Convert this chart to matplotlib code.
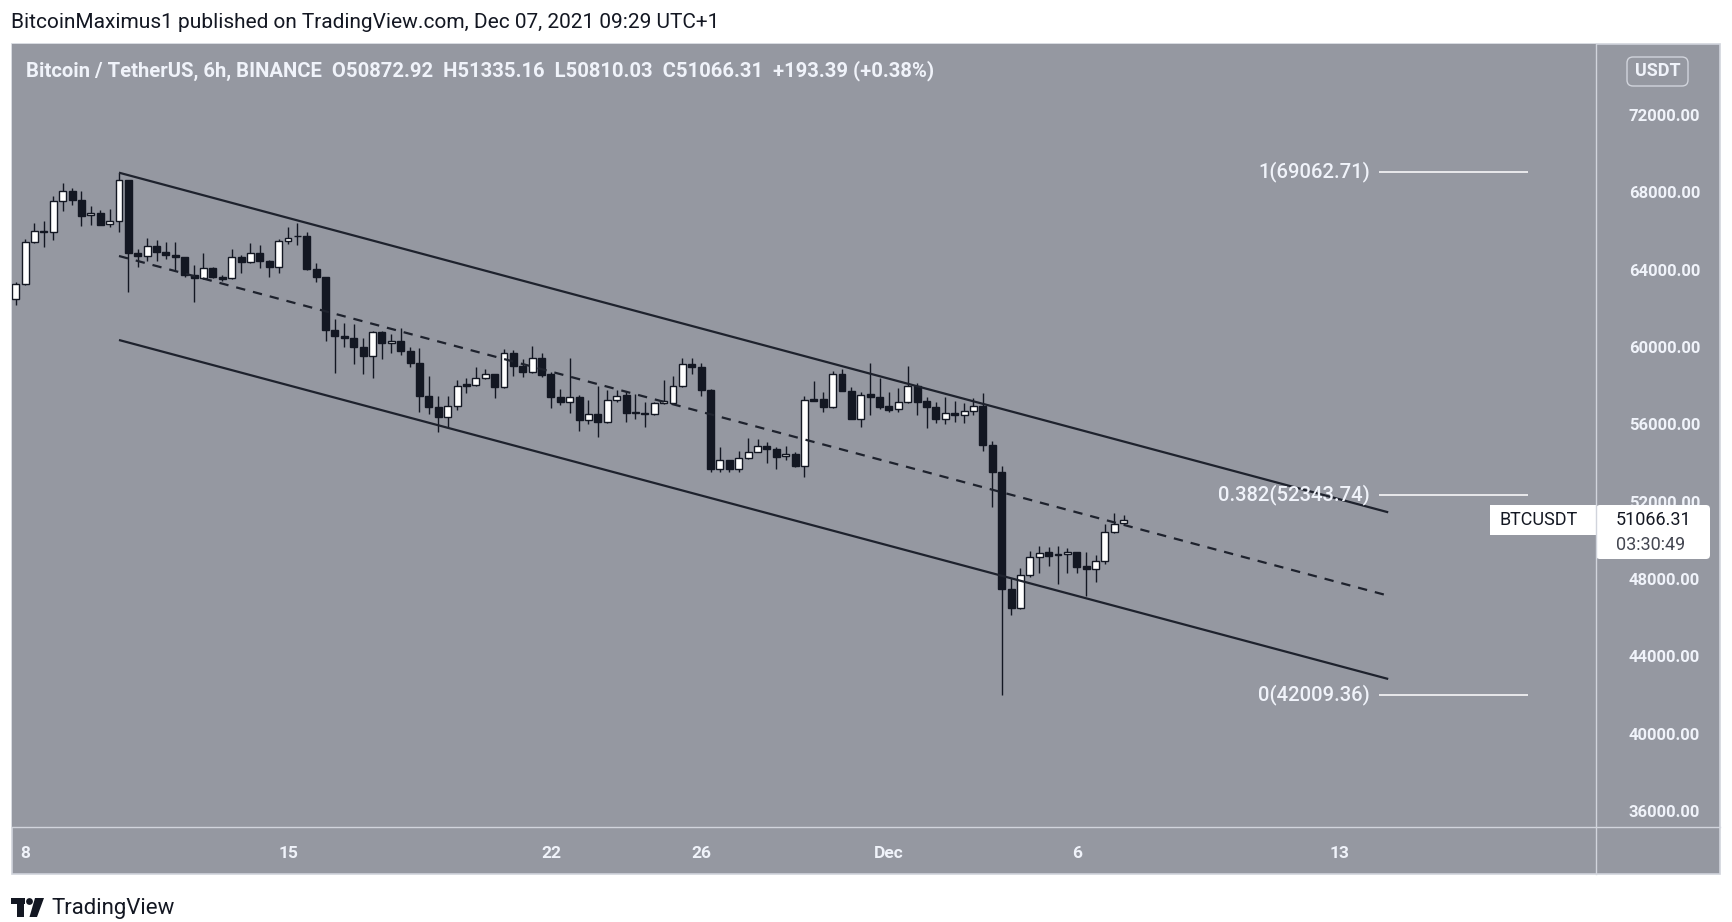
import matplotlib
matplotlib.use('Agg')
import matplotlib.pyplot as plt
from matplotlib.patches import Rectangle, FancyBboxPatch, Polygon, Circle
import pandas as pd
import numpy as np

# ---------------- data ----------------
start_time = pd.Timestamp('2021-11-07 18:00')
interval = pd.Timedelta(hours=6)

opens = [62465, 63241, 65414, 66017, 65965, 67534, 68086, 67603, 66844, 66948,
         66344, 66517, 68620, 64879, 64707, 65241, 64931, 64758, 64638, 63724,
         63551, 64103, 63603, 63551, 64638, 64396, 64879, 64465, 64155, 65500,
         65740, 65720, 64017, 63604, 60879, 60569, 60449, 60017, 59552, 60759,
         60224, 60328, 59810, 59190, 57483, 56880, 56397, 56948, 58069, 58035,
         58414, 58586, 57914, 59673, 59017, 58690, 59449, 58603, 57431, 57173,
         57431, 56224, 56517, 56103, 57258, 57517, 56603, 56603, 56534, 57120,
         57086, 57982, 59120, 58948, 57776, 53672, 54155, 53672, 54241, 54586,
         54897, 54707, 54362, 54465, 53862, 57310, 57310, 56879, 58586, 57724,
         56276, 57569, 57397, 56948, 56776, 57138, 57983, 57207, 56879, 56276,
         56603, 56483, 56707, 56948, 54931, 53552, 47483, 46483, 48207, 49155,
         49380, 49242, 49293, 49380, 48673, 48535, 48948, 50414, 50872.92]
highs = [63380, 65586, 66396, 66517, 67810, 68500, 68207, 68086, 67310, 67086,
         67120, 69017, 68650, 65051, 65620, 65534, 65448, 65448, 64660, 64241,
         64879, 64120, 63724, 65051, 64758, 65362, 65276, 64500, 65569, 66224,
         66397, 65966, 64362, 63620, 61431, 61259, 61190, 60449, 60845, 60845,
         60655, 60966, 59983, 59931, 58500, 57483, 57483, 58293, 58380, 58983,
         58845, 58600, 59880, 59845, 59362, 60052, 59707, 58724, 57810, 59449,
         57500, 57258, 57982, 57776, 57776, 57724, 57569, 57172, 57138, 58293,
         58500, 59413, 59413, 59155, 57810, 54845, 54170, 54638, 55276, 55224,
         55069, 54845, 54897, 54586, 57465, 58241, 57689, 58776, 58845, 57914,
         57689, 59190, 58380, 57690, 57862, 59017, 58121, 57431, 57172, 57397,
         57224, 57086, 57345, 57603, 55155, 53845, 48035, 48552, 49466, 49707,
         49638, 49707, 49586, 49400, 49414, 49242, 50845, 51397, 51335.16]
lows = [62170, 63200, 65380, 65155, 65534, 67034, 67344, 66258, 66310, 66300,
        66224, 65965, 62862, 64120, 64431, 64431, 64569, 63983, 63603, 62310,
        63530, 63551, 63431, 63530, 63810, 64362, 64069, 63603, 63810, 65310,
        65276, 64000, 63380, 60327, 58638, 60017, 59121, 58586, 58414, 59362,
        59673, 59586, 58983, 56656, 56517, 55621, 55879, 56741, 57603, 58000,
        58328, 57345, 57862, 58500, 58466, 58638, 58466, 56828, 57000, 56603,
        55672, 55999, 55362, 56080, 57138, 56138, 56258, 55845, 56480, 57050,
        57050, 57914, 58603, 57465, 53551, 53551, 53551, 53551, 54200, 54550,
        54017, 53672, 54155, 53810, 53293, 57200, 56655, 56828, 57700, 56250,
        55879, 56483, 56776, 56655, 56655, 57086, 56483, 55793, 56052, 56017,
        56138, 56087, 56483, 54638, 51742, 42000, 46138, 46450, 48121, 48328,
        48690, 47742, 48293, 48293, 47121, 47862, 48776, 50362, 50810.03]
closes = [63241, 65414, 66017, 65965, 67534, 68086, 67603, 66793, 66948, 66330,
          66517, 68620, 64879, 64707, 65241, 64931, 64758, 64638, 63724, 63551,
          64103, 63603, 63534, 64638, 64396, 64879, 64465, 64155, 65500, 65655,
          65720, 64017, 63604, 60879, 60569, 60449, 60017, 59552, 60759, 60224,
          60328, 59810, 59190, 57483, 56880, 56397, 56948, 57983, 58000, 58414,
          58586, 57914, 59673, 59017, 58690, 59449, 58552, 57431, 57173, 57431,
          56224, 56517, 56103, 57258, 57483, 56603, 56620, 56534, 57120, 57190,
          57982, 59120, 58948, 57776, 53672, 54155, 53672, 54241, 54586, 54879,
          54707, 54327, 54465, 53862, 57258, 57224, 56879, 58586, 57724, 56276,
          57517, 57397, 56914, 56741, 57138, 57983, 57172, 56879, 56276, 56569,
          56483, 56707, 56948, 54931, 53552, 47483, 46483, 48207, 49121, 49362,
          49207, 49260, 49380, 48638, 48535, 48948, 50414, 50845, 51066.31]

tick_dates = ['2021-11-08', '2021-11-15', '2021-11-22', '2021-11-26',
              '2021-12-01', '2021-12-06', '2021-12-13']
tick_labels = ['8', '15', '22', '26', 'Dec', '6', '13']
price_ticks = [36000, 40000, 44000, 48000, 52000, 56000, 60000, 64000, 68000, 72000]

channel_dates = ['2021-11-10 12:00', '2021-12-14 07:00']
channel_upper = [69017, 51450]
channel_mid = [64707, 47137]
channel_lower = [60362, 42828]

fib_ratios = ['1', '0.382', '0']
fib_levels = [69062.71, 52343.74, 42009.36]

last_price = 51066.31
countdown = '03:30:49'
header = ('Bitcoin / TetherUS, 6h, BINANCE  O50872.92  H51335.16  '
          'L50810.03  C51066.31  +193.39 (+0.38%)')
published = 'BitcoinMaximus1 published on TradingView.com, Dec 07, 2021 09:29 UTC+1'

# ---------------- helpers ----------------
def to_idx(ts):
    return (pd.Timestamp(ts) - start_time) / interval

W, H = 1733, 922
FONT = ['Roboto', 'DejaVu Sans']
plt.rcParams['font.family'] = FONT
GRAY = '#9598A1'
DARK = '#131722'
WHITE = '#F0F3FA'
SEP = '#D1D4DC'

fig = plt.figure(figsize=(W / 100, H / 100), dpi=100, facecolor='white')

# background overlay (pixel coordinates)
bg = fig.add_axes([0, 0, 1, 1], zorder=0)
bg.set_xlim(0, W); bg.set_ylim(H, 0); bg.axis('off')
bg.add_patch(Rectangle((12, 44), 1708, 830, facecolor=GRAY, edgecolor=SEP, lw=1.2))

# main price axes
L_px, R_px, T_px, B_px = 12, 1596, 44, 826.6
ax = fig.add_axes([L_px / W, (H - B_px) / H, (R_px - L_px) / W, (B_px - T_px) / H], zorder=1)
ax.set_facecolor(GRAY)
for s in ax.spines.values():
    s.set_visible(False)

n = len(opens)
x = np.arange(n)
o = np.array(opens); c = np.array(closes); hi = np.array(highs); lo = np.array(lows)
up = c >= o
ax.vlines(x, lo, hi, color=DARK, lw=1.0, zorder=2)
body_bottom = np.minimum(o, c)
body_h = np.maximum(np.abs(c - o), 25)
ax.bar(x[up], body_h[up], bottom=body_bottom[up], width=0.74, color='white',
       edgecolor=DARK, linewidth=1.0, zorder=3)
ax.bar(x[~up], body_h[~up], bottom=body_bottom[~up], width=0.74, color=DARK,
       edgecolor=DARK, linewidth=1.0, zorder=3)

# channel
cx = [to_idx(d) for d in channel_dates]
ax.plot(cx, channel_upper, color='#1E222D', lw=1.6, solid_capstyle='butt', zorder=4)
ax.plot(cx, channel_lower, color='#1E222D', lw=1.6, solid_capstyle='butt', zorder=4)
ax.plot(cx, channel_mid, color='#1E222D', lw=1.6, dashes=(4.2, 3.6), zorder=4)

# fib levels
fx0 = (1379 - 15.7) / 9.39
fx1 = (1528 - 15.7) / 9.39
ftx = (1370 - 15.7) / 9.39
for r, lv in zip(fib_ratios, fib_levels):
    ax.hlines(lv, fx0, fx1, color='white', lw=1.1, zorder=4)
    ax.text(ftx, lv, f'{r}({lv:.2f})', color=WHITE, fontsize=14.6, ha='right',
            va='center', zorder=5, fontweight='medium')

x_left = (L_px - 15.7) / 9.39
x_right = (R_px - 15.7) / 9.39
ax.set_xlim(x_left, x_right)
p_per_px = 1000 / 19.333
ax.set_ylim(72000 - (B_px - 115) * p_per_px, 72000 + (115 - T_px) * p_per_px)

ax.yaxis.tick_right()
ax.set_yticks(price_ticks)
ax.set_yticklabels([f'{v:.2f}' for v in price_ticks])
ax.tick_params(axis='y', length=0, pad=23.5, labelcolor=WHITE, labelsize=12)
ax.set_xticks([to_idx(d) for d in tick_dates])
ax.set_xticklabels(tick_labels)
ax.tick_params(axis='x', length=0, pad=14, labelcolor=WHITE, labelsize=12.5)
for lab in ax.get_xticklabels() + ax.get_yticklabels():
    lab.set_fontweight('bold')

# foreground overlay
fg = fig.add_axes([0, 0, 1, 1], zorder=3)
fg.set_xlim(0, W); fg.set_ylim(H, 0); fg.axis('off'); fg.patch.set_alpha(0)
fg.plot([R_px, R_px], [44, 874], color=SEP, lw=1.0)
fg.plot([12, 1720], [B_px, B_px], color=SEP, lw=1.0)

fg.text(11, 22, published, color=DARK, fontsize=15, ha='left', va='center')
fg.text(26, 71, header, color=WHITE, fontsize=14.6, ha='left', va='center',
        fontweight='bold')

# USDT box
fg.add_patch(FancyBboxPatch((1627, 57), 61, 29, boxstyle='round,pad=0,rounding_size=6',
                            facecolor='none', edgecolor=SEP, lw=1.0))
fg.text(1657.5, 71.5, 'USDT', color=WHITE, fontsize=13, ha='center', va='center',
        fontweight='bold')

# last price label
fg.add_patch(Rectangle((1490, 505), 106, 30, facecolor='white', edgecolor='none'))
fg.add_patch(FancyBboxPatch((1596, 505), 114, 54, boxstyle='round,pad=0,rounding_size=4',
                            facecolor='white', edgecolor='none'))
fg.text(1500, 520, 'BTCUSDT', color=DARK, fontsize=13, ha='left', va='center')
fg.text(1616, 520, f'{last_price:.2f}', color=DARK, fontsize=13, ha='left', va='center')
fg.text(1616, 545, countdown, color='#434651', fontsize=13, ha='left', va='center')

# TradingView logo + text
fg.add_patch(Rectangle((11, 898), 14, 5.5, facecolor=DARK, edgecolor='none'))
fg.add_patch(Rectangle((17.5, 898), 6.5, 19, facecolor=DARK, edgecolor='none'))
fg.add_patch(Circle((29.5, 901.5), 3.4, facecolor=DARK, edgecolor='none'))
fg.add_patch(Polygon([(35, 898), (44, 898), (37, 917), (29.5, 917)], closed=True,
                     facecolor=DARK, edgecolor='none'))
fg.text(51, 908, 'TradingView', color=DARK, fontsize=16, ha='left', va='center')

fig.savefig('out.png', dpi=100, facecolor='white')
